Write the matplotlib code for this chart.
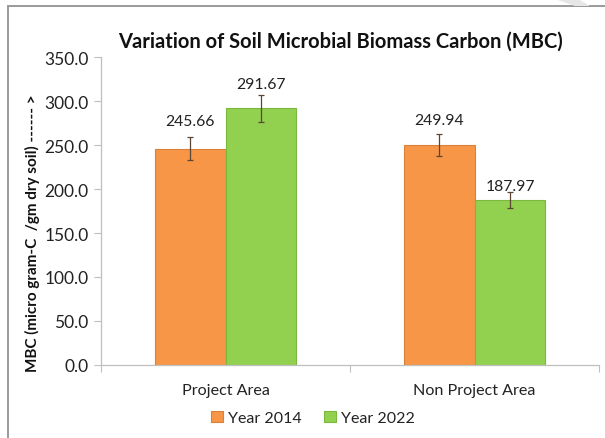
import matplotlib
matplotlib.use("Agg")
import matplotlib.pyplot as plt
import numpy as np
from matplotlib.patches import Rectangle, Polygon

categories = ["Project Area", "Non Project Area"]
series_names = ["Year 2014", "Year 2022"]
mbc_2014 = [245.66, 249.94]
mbc_2022 = [291.67, 187.97]
err_2014 = [13.0, 12.5]
err_2022 = [15.0, 9.0]
labels_2014 = ["245.66", "249.94"]
labels_2022 = ["291.67", "187.97"]
# label extra offset above bar top (data units)
lab_off_2014 = [32.0, 29.0]
lab_off_2022 = [27.5, 15.5]
yticks = [0, 50, 100, 150, 200, 250, 300, 350]

FONT = ["Lato", "DejaVu Sans"]
plt.rcParams['font.family'] = FONT

fig = plt.figure(figsize=(6.05, 4.39), dpi=100)
W, H = 605, 439
ax = fig.add_axes([101 / W, 1 - 366 / H, (599 - 101) / W, (366 - 58) / H])

x = np.arange(len(categories))
bw = 0.285
c1, c2 = "#F79646", "#92D050"
e1, e2 = "#D9803A", "#7AB83E"
ecol = "#5B4636"

b1 = ax.bar(x - bw / 2, mbc_2014, bw, color=c1, edgecolor=e1, linewidth=0.8,
            label=series_names[0], zorder=2)
b2 = ax.bar(x + bw / 2, mbc_2022, bw, color=c2, edgecolor=e2, linewidth=0.8,
            label=series_names[1], zorder=2)
ax.errorbar(x - bw / 2, mbc_2014, yerr=err_2014, fmt="none", ecolor=ecol,
            elinewidth=0.9, capsize=2.5, capthick=0.9, zorder=3)
ax.errorbar(x + bw / 2, mbc_2022, yerr=err_2022, fmt="none", ecolor=ecol,
            elinewidth=0.9, capsize=2.5, capthick=0.9, zorder=3)

for i in range(len(categories)):
    ax.text(x[i] - bw / 2, mbc_2014[i] + lab_off_2014[i], labels_2014[i],
            ha="center", va="center", fontsize=11.3, color="#222222")
    ax.text(x[i] + bw / 2, mbc_2022[i] + lab_off_2022[i], labels_2022[i],
            ha="center", va="center", fontsize=11.3, color="#222222")

ax.set_xlim(-0.5, 1.5)
ax.set_ylim(0, 350)
ax.set_yticks(yticks)
ax.set_yticklabels([f"{v:.1f}" for v in yticks], fontsize=12.5, color="#222222")
ax.set_xticks(x)
ax.set_xticklabels(categories, fontsize=11.6, color="#222222")
ax.set_xticks([-0.5, 0.5, 1.5], minor=True)
ax.tick_params(axis="x", which="major", length=0, pad=13)
ax.tick_params(axis="x", which="minor", length=5, color="#BFBFBF", width=0.8)
ax.tick_params(axis="y", length=5, color="#BFBFBF", width=0.8, pad=4)
for s in ["top", "right"]:
    ax.spines[s].set_visible(False)
for s in ["left", "bottom"]:
    ax.spines[s].set_color("#BFBFBF")
    ax.spines[s].set_linewidth(0.9)

fig.text(340 / W, 1 - 42 / H, "Variation of Soil Microbial Biomass Carbon (MBC)",
         ha="center", va="center", fontsize=14.5, fontweight="bold", color="#111111")
fig.text(32 / W, 1 - 233 / H, "MBC (micro gram-C  /gm dry soil) ------ >",
         ha="center", va="center", rotation=90, fontsize=11, fontweight="bold",
         color="#111111")

leg = fig.legend(handles=[b1, b2], loc="center", bbox_to_anchor=(313 / W, 1 - 419 / H),
                 ncol=2, frameon=False, fontsize=11.5, handlelength=0.75,
                 handleheight=0.75, handletextpad=0.3, columnspacing=1.4)
for t in leg.get_texts():
    t.set_color("#222222")

# frame border of the chart area
fig.add_artist(Rectangle((7.5 / W, -0.1), 2.0, (1 - 7 / H) + 0.1,
                         transform=fig.transFigure, fill=False,
                         edgecolor="#9A9A9A", linewidth=1.4))
fig.add_artist(Polygon([(555 / W, 1.0), (578 / W, 1.0), (590 / W, 1 - 7 / H), (575 / W, 1 - 7 / H)],
                       closed=True, transform=fig.transFigure, facecolor="#E6E6E6",
                       edgecolor="none", hatch="////"))

fig.savefig("out.png", dpi=100)
